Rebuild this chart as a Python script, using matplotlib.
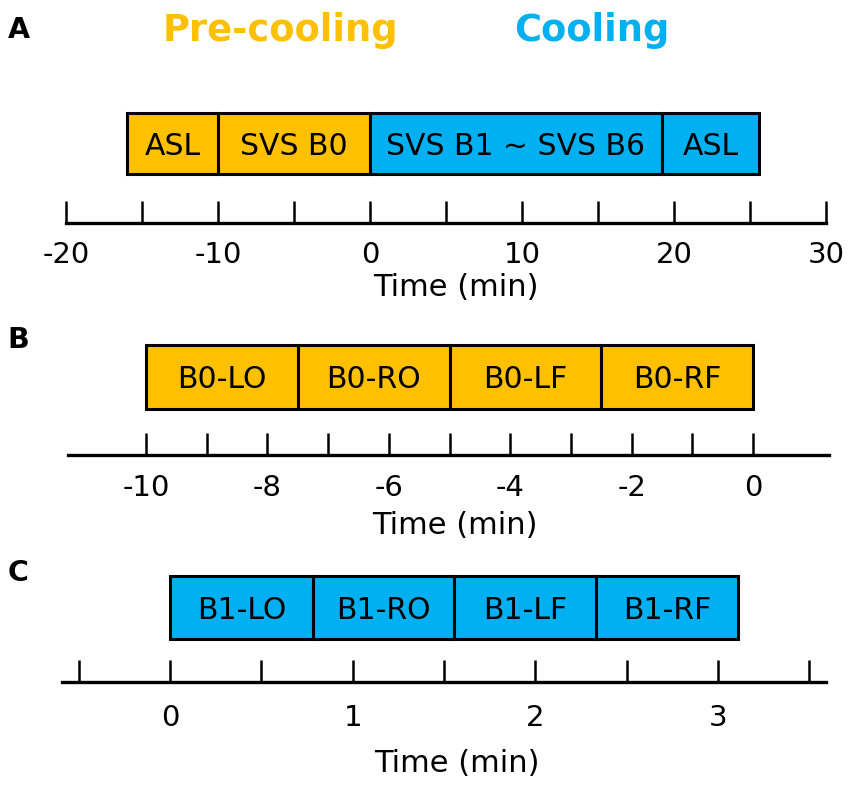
import numpy as np
import matplotlib
matplotlib.use('Agg')
import matplotlib.pyplot as plt
from matplotlib.ticker import FixedLocator

plt.rcParams['font.family'] = ['DejaVu Sans']
plt.rcParams['axes.unicode_minus'] = False

# panel A: whole protocol
a_labels = ['ASL', 'SVS B0', 'SVS B1 ~ SVS B6', 'ASL']
a_starts = [-16, -10, 0, 19.2]
a_ends = [-10, 0, 19.2, 25.6]
a_phase = ['pre', 'pre', 'cool', 'cool']
a_ticklabels = ['-20', '-10', '0', '10', '20', '30']

# panel B: B0 blocks
b_labels = ['B0-LO', 'B0-RO', 'B0-LF', 'B0-RF']
b_starts = [-10, -7.5, -5, -2.5]
b_ends = [-7.5, -5, -2.5, 0]
b_phase = ['pre', 'pre', 'pre', 'pre']
b_ticklabels = ['-10', '-8', '-6', '-4', '-2', '0']

# panel C: B1 blocks
c_labels = ['B1-LO', 'B1-RO', 'B1-LF', 'B1-RF']
c_starts = [0, 0.78, 1.555, 2.335]
c_ends = [0.78, 1.555, 2.335, 3.11]
c_phase = ['cool', 'cool', 'cool', 'cool']
c_ticklabels = ['0', '1', '2', '3']

ORANGE = '#FFC000'
BLUE = '#00B0F0'
colors = {'pre': ORANGE, 'cool': BLUE}

W, H = 851, 786
fig = plt.figure(figsize=(W / 100, H / 100), dpi=100)
PT = 0.72  # points per pixel at 100 dpi


def panel(x0, x1, line_y, bar_top, bar_bot, xlim, starts, ends, labels, phase,
          major, minor, ticklabels, tick_span, label_x, tick_top, label_y):
    # axes spans from the axis line up to the top of the bars (pixel coords)
    ax = fig.add_axes([x0 / W, 1 - line_y / H, (x1 - x0) / W, (line_y - bar_top) / H])
    hpx = line_y - bar_top
    b = (line_y - bar_bot) / hpx
    starts = np.array(starts)
    ends = np.array(ends)
    ax.barh(b + (1 - b) / 2, ends - starts, left=starts, height=1 - b,
            color=[colors[p] for p in phase], edgecolor='black', linewidth=2.2,
            clip_on=False)
    for s, e, t in zip(starts, ends, labels):
        ax.text((s + e) / 2, b + (1 - b) / 2, t, ha='center', va='center_baseline',
                fontsize=21.5)
    ax.set_xlim(*xlim)
    ax.set_ylim(0, 1)
    for sp in ['top', 'left', 'right']:
        ax.spines[sp].set_visible(False)
    ax.spines['bottom'].set_linewidth(2.4)
    ax.set_yticks([])
    ax.xaxis.set_minor_locator(FixedLocator(np.arange(tick_span[0], tick_span[1] + 1e-9, minor)))
    ax.set_xticks(np.arange(len(ticklabels)) * major + float(ticklabels[0]))
    ax.set_xticklabels(ticklabels)
    ax.tick_params(axis='x', which='both', direction='in', length=16, width=1.8,
                   labelsize=21, pad=(tick_top - line_y - 1) * PT)
    ax.set_xlabel('Time (min)', fontsize=22, va='center_baseline')
    ax.xaxis.set_label_coords((label_x - x0) / (x1 - x0), -(label_y - line_y) / hpx)
    ax.patch.set_alpha(0)
    return ax


panel(66, 826, 223, 113, 174, (-20, 30), a_starts, a_ends, a_labels, a_phase,
      10, 5, a_ticklabels, (-20, 30), 456, 242, 284)
panel(68, 829, 455, 345, 409, (-11.285, 1.252), b_starts, b_ends, b_labels, b_phase,
      2, 1, b_ticklabels, (-10, 0), 455, 475, 523)
panel(62, 826, 682, 576, 639, (-0.593, 3.593), c_starts, c_ends, c_labels, c_phase,
      1, 0.5, c_ticklabels, (-0.5, 3.5), 457, 705, 761)

fig.text(280 / W, 1 - 26.5 / H, 'Pre-cooling', color=ORANGE, fontsize=26.5,
         fontweight='bold', ha='center', va='center_baseline')
fig.text(592 / W, 1 - 26.5 / H, 'Cooling', color=BLUE, fontsize=26.5,
         fontweight='bold', ha='center', va='center_baseline')
for t, y in zip(['A', 'B', 'C'], [27.5, 337, 570]):
    fig.text(18.5 / W, 1 - y / H, t, fontsize=20.5, fontweight='bold',
             ha='center', va='center_baseline')

fig.savefig('out.png', dpi=100)
